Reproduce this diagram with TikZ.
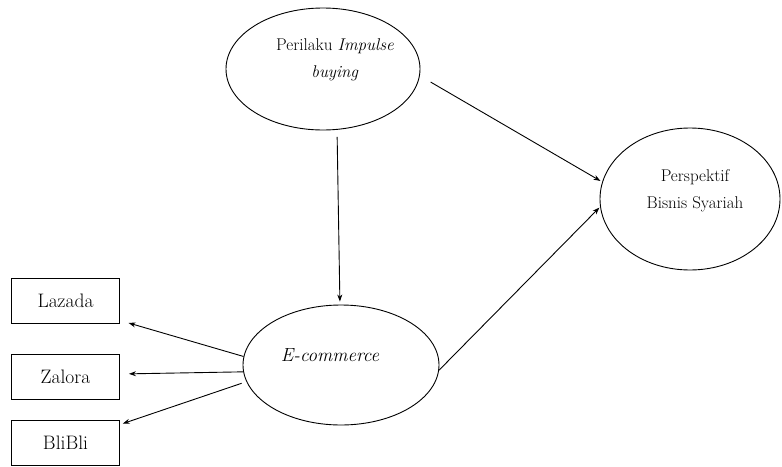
\documentclass[tikz,border=0pt]{standalone}
\usetikzlibrary{shapes.geometric,arrows.meta}
\begin{document}
\begin{tikzpicture}[x=1pt,y=-1pt,
  oval/.style={draw, ellipse, line width=0.9pt, inner sep=0pt},
  box/.style={draw, rectangle, line width=0.9pt, minimum width=108pt, minimum height=45pt, inner sep=0pt, font=\fontsize{19.5}{22}\selectfont},
  lbl/.style={align=center, inner sep=0pt, font=\fontsize{17}{26.5}\selectfont},
  arr/.style={line width=0.9pt, -{Stealth[length=7pt,width=5pt]}}]
\useasboundingbox (0,0) rectangle (782,466);
% ellipses
\node[oval, minimum width=194pt, minimum height=122pt] (top) at (323,69) {};
\node[lbl] (toptext) at (335,60) {Perilaku \textit{Impulse}\\\textit{buying}};
\node[oval, minimum width=180pt, minimum height=142pt] (persp) at (690,199) {};
\node[lbl] (persptext) at (695,191) {Perspektif\\Bisnis Syariah};
\node[oval, minimum width=196pt, minimum height=120pt] (ecom) at (341,365) {};
\node[lbl, font=\fontsize{19}{22}\selectfont] (ecomtext) at (330,355) {\textit{E-commerce}};
% boxes
\node[box] (laz) at (65.5,300.5) {Lazada};
\node[box] (zal) at (65.5,376.5) {Zalora};
\node[box] (bli) at (65.5,442.5) {BliBli};
% connectors
\draw[arr, shorten <=7pt, shorten >=3pt] (top.-77) -- (ecom.91);
\draw[arr, shorten <=12.5pt, shorten >=2pt] (top.-4.6) -- (persp.169);
\draw[arr, shorten >=1pt] (ecom.-3) -- (persp.185);
\draw[arr, shorten >=9pt] (ecom.175.3) -- ([yshift=3pt]laz.south east);
\draw[arr, shorten >=9pt] (ecom.184.1) -- ([yshift=2.5pt]zal.east);
\draw[arr, shorten <=5pt, shorten >=3pt] (ecom.190.9) -- ([yshift=-5pt]bli.north east);
\end{tikzpicture}
\end{document}
